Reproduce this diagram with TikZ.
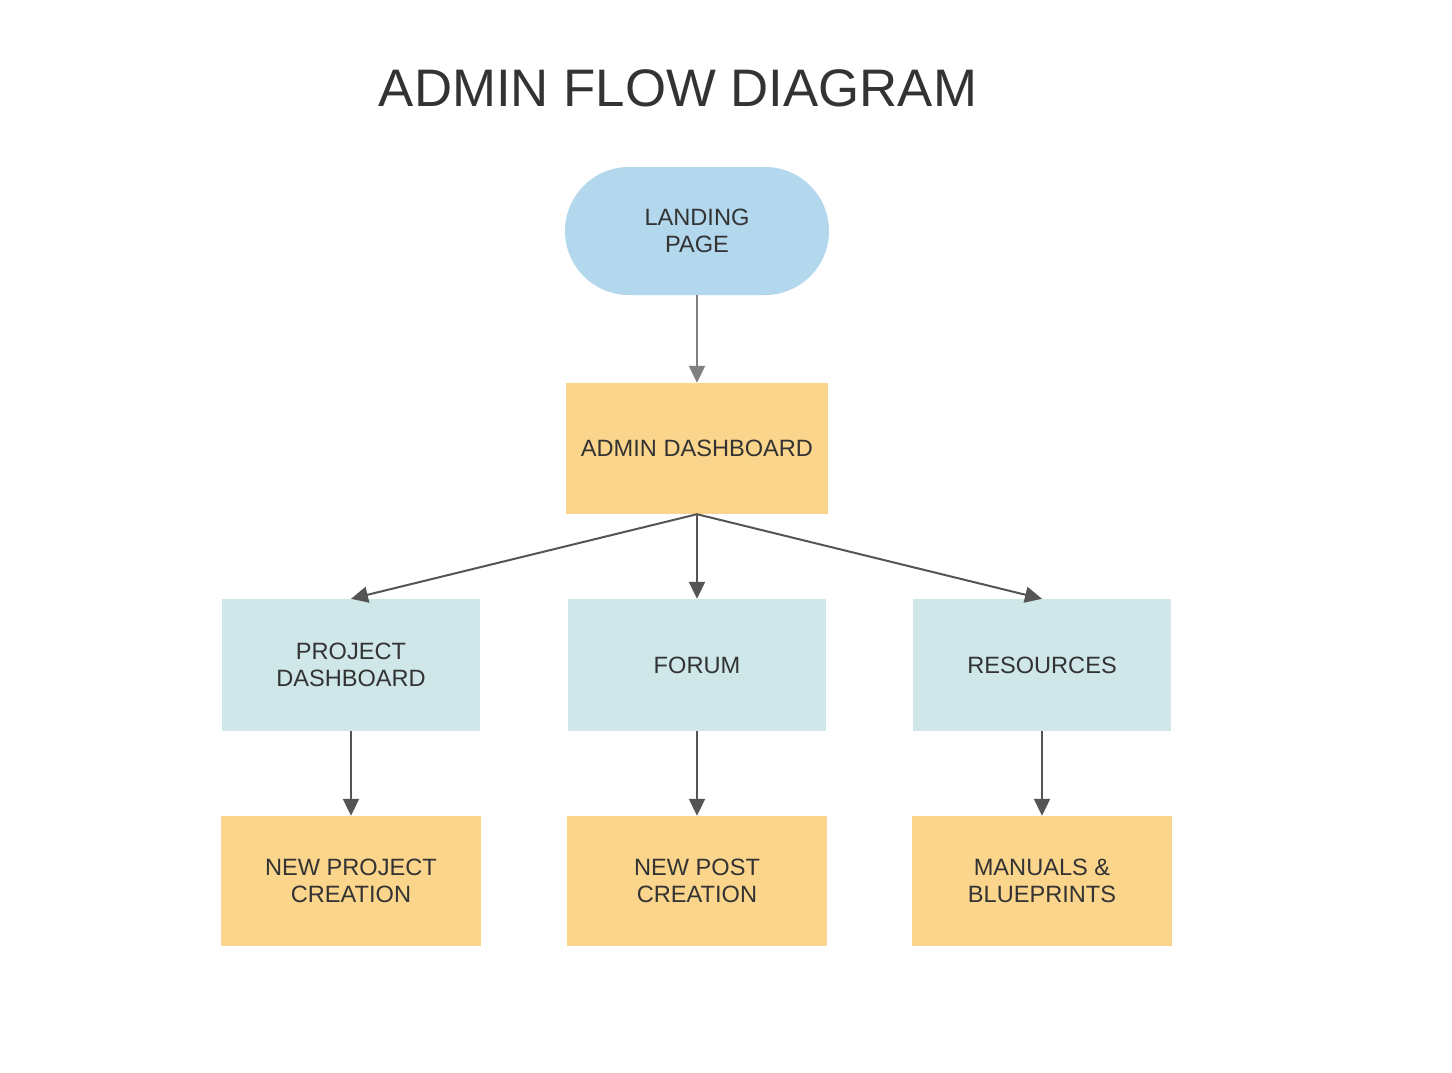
\documentclass[tikz,border=0pt]{standalone}
\usepackage{fontspec}
\setmainfont{Liberation Sans}
\usetikzlibrary{arrows.meta}
\definecolor{txt}{HTML}{333333}
\definecolor{bluefill}{HTML}{B3D7EC}
\definecolor{orangefill}{HTML}{FAD58B}
\definecolor{tealfill}{HTML}{CFE7E8}
\definecolor{arrowgray}{HTML}{808080}
\definecolor{arrowdark}{HTML}{555555}
\tikzset{
  boxbase/.style={minimum width=260pt, minimum height=130pt, inner sep=0pt, align=center, text=txt,
    font=\fontsize{23.6pt}{27pt}\selectfont},
  orangebox/.style={boxbase, fill=orangefill},
  tealbox/.style={boxbase, fill=tealfill, minimum width=258pt, minimum height=132pt},
  pill/.style={boxbase, fill=bluefill, rounded corners=64pt, minimum width=264pt, minimum height=128pt},
  conn/.style={draw=arrowdark, line width=2pt, -{Triangle[length=17pt,width=16pt]}},
  connlight/.style={conn, draw=arrowgray}
}
\begin{document}
\begin{tikzpicture}[x=1pt,y=-1pt]
\useasboundingbox (0,0) rectangle (1452,1072);
\fill[white] (0,0) rectangle (1452,1072);
\node[text=txt, font=\fontsize{52.8pt}{56pt}\selectfont] (title) at (678,88) {ADMIN FLOW DIAGRAM};
\node[pill] (landing) at (697,231) {LANDING\hspace{6pt}\\PAGE};
\node[orangebox, minimum width=262pt, minimum height=131pt] (admin) at (697,448.5) {ADMIN DASHBOARD};
\node[tealbox] (pd) at (351,665) {PROJECT\\DASHBOARD};
\node[tealbox] (forum) at (697,665) {FORUM};
\node[tealbox] (res) at (1042,665) {RESOURCES};
\node[orangebox] (np) at (351,881) {NEW PROJECT\\CREATION};
\node[orangebox] (npost) at (697,881) {NEW POST\\CREATION};
\node[orangebox] (man) at (1042,881) {MANUALS \&\\BLUEPRINTS};
\draw[connlight] (landing.south) -- (admin.north);
\draw[conn] (admin.south) -- (pd.north);
\draw[conn] (admin.south) -- (forum.north);
\draw[conn] (admin.south) -- (res.north);
\draw[conn] (pd.south) -- (np.north);
\draw[conn] (forum.south) -- (npost.north);
\draw[conn] (res.south) -- (man.north);
\end{tikzpicture}
\end{document}
